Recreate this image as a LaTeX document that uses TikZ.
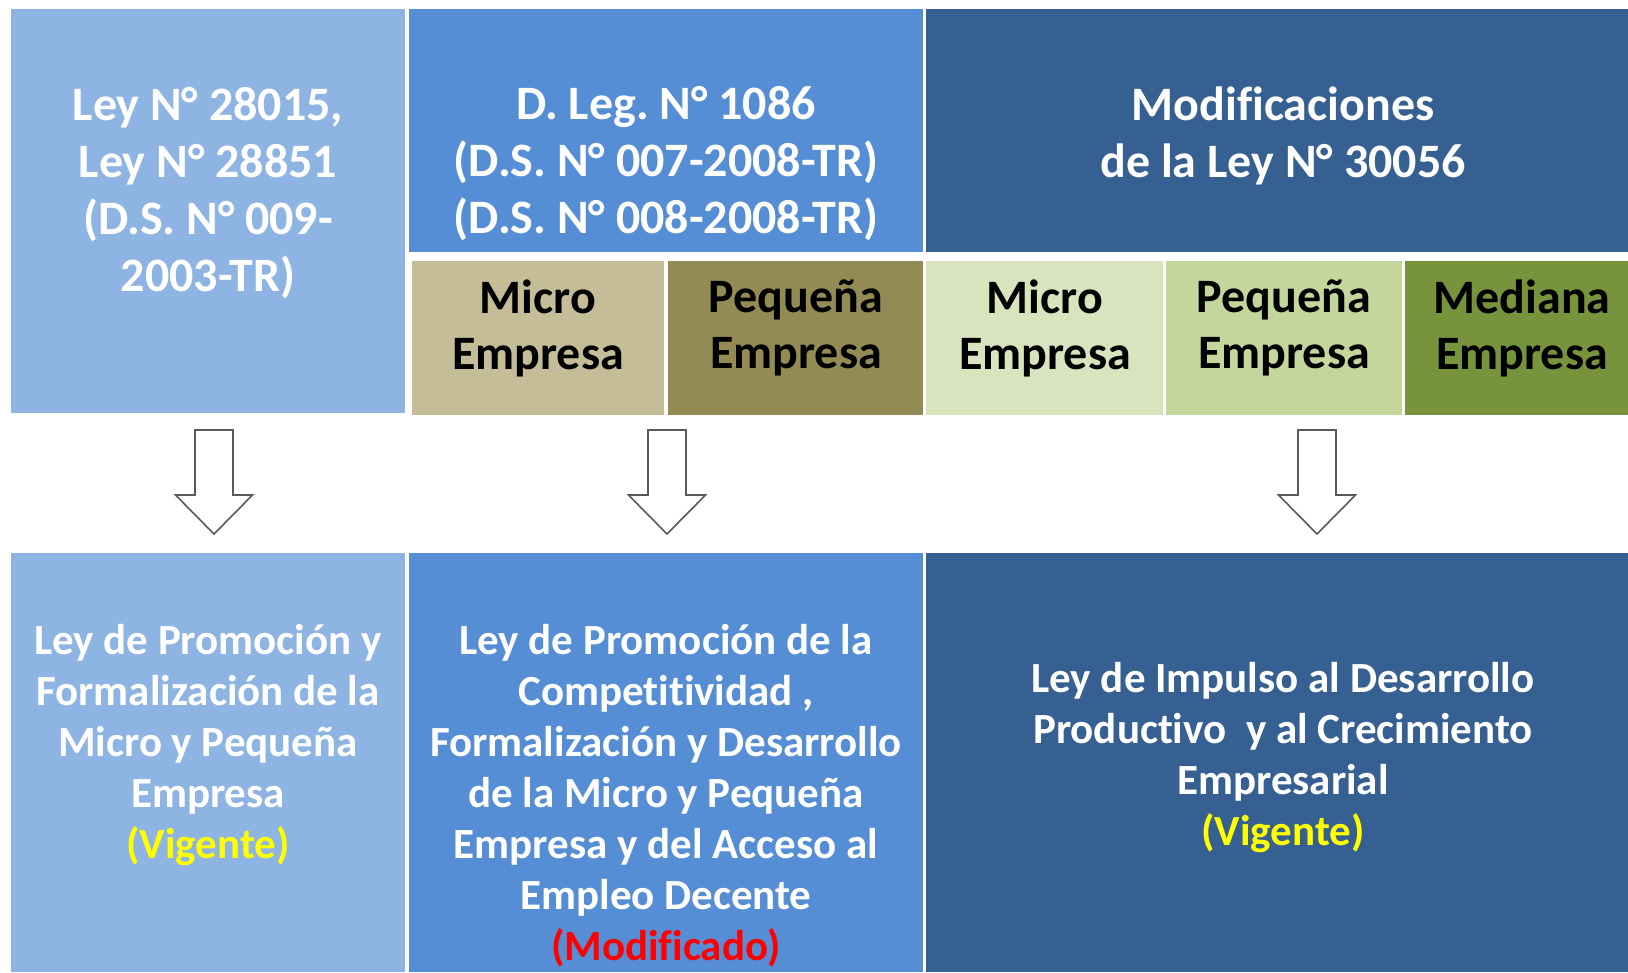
\documentclass[tikz,border=0pt]{standalone}
\usepackage{fontspec}
\setmainfont{Carlito}[Ligatures={NoCommon}]
\definecolor{lightblue}{HTML}{8EB4E3}
\definecolor{midblue}{HTML}{558ED5}
\definecolor{darkblue}{HTML}{376092}
\definecolor{tanc}{HTML}{C4BD97}
\definecolor{olivec}{HTML}{948A54}
\definecolor{palegreen}{HTML}{D7E4BD}
\definecolor{lightgreen}{HTML}{C3D69B}
\definecolor{darkgreen}{HTML}{77933C}
\definecolor{vyellow}{HTML}{FFFF00}
\definecolor{mred}{HTML}{FF0000}
\definecolor{arrgray}{HTML}{5A5A5A}
\tikzset{
  headtext/.style={text=white, align=center, inner sep=0pt, font=\frenchspacing\bfseries\fontsize{48}{57}\selectfont},
  subtext/.style={text=black, align=center, inner sep=0pt, font=\frenchspacing\bfseries\fontsize{48}{56}\selectfont},
  bodytext/.style={text=white, align=center, inner sep=0pt, font=\frenchspacing\bfseries\fontsize{43}{51}\selectfont},
  downarr/.pic={\draw[arrgray, line width=1.6pt, fill=white, line join=miter]
     (-19,0) -- (19,0) -- (19,65) -- (38.5,65) -- (0,104) -- (-38.5,65) -- (-19,65) -- cycle;}
}
\begin{document}
\begin{tikzpicture}[x=1pt,y=-1pt]
\useasboundingbox[fill=white] (0,0) rectangle (1628,972);
% top row
\fill[lightblue] (11,9) rectangle (405,413);
\fill[midblue] (409,9) rectangle (923,252);
\fill[darkblue] (926,9) rectangle (1628,252);
% sub row
\fill[tanc] (412,261) rectangle (664,415);
\fill[olivec] (668,261) rectangle (923,415);
\fill[palegreen] (926,261) rectangle (1163,415);
\fill[lightgreen] (1166,261) rectangle (1402,415);
\fill[darkgreen] (1405,261) rectangle (1628,415);
% bottom row
\fill[lightblue] (11,553) rectangle (405,972);
\fill[midblue] (409,553) rectangle (923,972);
\fill[darkblue] (926,553) rectangle (1628,972);

% header texts
\node[headtext] (h1) at (208,193) {Ley N° 28015,\\Ley N° 28851\\(D.S. N° 009-\\2003-TR)};
\node[headtext] (h2) at (666,164) {D. Leg. N° 1086\\(D.S. N° 007-2008-TR)\\(D.S. N° 008-2008-TR)};
\node[headtext] (h3) at (1283,136) {Modificaciones\\de la Ley N° 30056};

% sub texts
\node[subtext] (s1) at (538,328) {Micro\\Empresa};
\node[subtext] (s2) at (796,328) {Pequeña\\Empresa};
\node[subtext] (s3) at (1045,328) {Micro\\Empresa};
\node[subtext] (s4) at (1284,328) {Pequeña\\Empresa};
\node[subtext] (s5) at (1522,328) {Mediana\\Empresa};

% arrows
\pic at (214,430) {downarr};
\pic at (667,430) {downarr};
\pic at (1317,430) {downarr};

% bottom texts
\node[bodytext] (b1) at (208,745) {Ley de Promoción y\\Formalización de la\\Micro y Pequeña\\Empresa\\\textcolor{vyellow}{(Vigente)}};
\node[bodytext] (b2) at (666,796) {Ley de Promoción de la\\Competitividad ,\\Formalización y Desarrollo\\de la Micro y Pequeña\\Empresa y del Acceso al\\Empleo Decente\\\textcolor{mred}{(Modificado)}};
\node[bodytext] (b3) at (1283,758) {Ley de Impulso al Desarrollo\\Productivo \ y al Crecimiento\\Empresarial\\\textcolor{vyellow}{(Vigente)}};
\end{tikzpicture}
\end{document}
